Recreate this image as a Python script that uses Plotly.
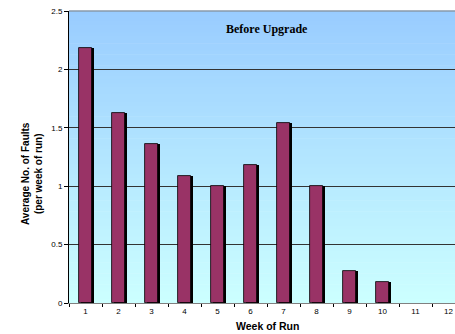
import plotly.graph_objects as go

# Average faults per week of run, before the upgrade
weeks = ["1", "2", "3", "4", "5", "6", "7", "8", "9", "10", "11", "12"]
avg_faults = [2.18, 1.63, 1.36, 1.09, 1.0, 1.18, 1.54, 1.0, 0.27, 0.18, 0, 0]

y_ticks = [0, 0.5, 1, 1.5, 2, 2.5]
y_labels = ["0", "0.5", "1", "1.5", "2", "2.5"]

W, H = 455, 334
ML, MT, MB = 69, 11, 31
plot_w = W - ML
plot_h = H - MT - MB

bar_w = 0.42
px_per_cat = 33.0
shadow_dx = 2.0 / px_per_cat

# no outline on empty weeks
outline_w = [0.8 if v > 0 else 0 for v in avg_faults]

fig = go.Figure()

# drop shadow behind each bar
fig.add_trace(go.Bar(
    x=weeks, y=avg_faults, width=bar_w, offset=-bar_w / 2 + shadow_dx,
    marker=dict(color="#000000", line=dict(width=0)),
    hoverinfo="skip", showlegend=False,
))
fig.add_trace(go.Bar(
    x=weeks, y=avg_faults, width=bar_w, offset=-bar_w / 2,
    marker=dict(color="#993366", line=dict(color="#000000", width=outline_w)),
    showlegend=False,
))

# vertical gradient fill for the plot area
n = 80
c0 = (153, 204, 255)
c1 = (204, 255, 255)
shapes = []
for i in range(n):
    t = i / (n - 1)
    col = tuple(round(c0[k] + (c1[k] - c0[k]) * t) for k in range(3))
    shapes.append(dict(
        type="rect", xref="x domain", yref="y domain",
        x0=0, x1=1, y0=1 - (i + 1) / n, y1=1 - i / n + 0.002,
        fillcolor="rgb(%d,%d,%d)" % col, line=dict(width=0), layer="below",
    ))
# top border of the plot area
shapes.append(dict(type="line", xref="x domain", yref="y domain",
                   x0=0, x1=1, y0=1, y1=1, line=dict(color="#808080", width=1)))

fig.update_layout(
    width=W, height=H,
    margin=dict(l=ML, r=0, t=MT, b=MB),
    paper_bgcolor="white", plot_bgcolor="rgba(0,0,0,0)",
    barmode="overlay", bargap=0,
    shapes=shapes,
    font=dict(family="Arial", size=8, color="#000000"),
    xaxis=dict(
        type="category", range=[-0.5, -0.5 + plot_w / px_per_cat],
        tickson="boundaries", ticks="outside", ticklen=3, tickcolor="#000",
        showline=True, linecolor="#808080", linewidth=1,
        showgrid=False, tickfont=dict(size=8, family="Arial"),
        fixedrange=True,
    ),
    yaxis=dict(
        range=[0, 2.5], tickvals=y_ticks, ticktext=y_labels,
        ticks="outside", ticklen=4, tickcolor="#000",
        showline=True, linecolor="#000000", linewidth=1,
        showgrid=True, gridcolor="#333333", gridwidth=1,
        zeroline=False, tickfont=dict(size=8, family="Arial"),
        fixedrange=True,
    ),
    annotations=[
        dict(text="<b>Before Upgrade</b>", xref="paper", yref="paper",
             x=(267 - ML) / plot_w, y=(H - MB - 29) / plot_h,
             showarrow=False, xanchor="center", yanchor="middle",
             font=dict(family="Times New Roman, Liberation Serif", size=12, color="#000")),
        dict(text="<b>Week of Run</b>", xref="paper", yref="paper",
             x=(267 - ML) / plot_w, y=(H - MB - 326) / plot_h,
             showarrow=False, xanchor="center", yanchor="middle",
             font=dict(family="Arial", size=10.5, color="#000")),
        dict(text="<b>Average No. of Faults<br>(per week of run)</b>",
             xref="paper", yref="paper",
             x=(32 - ML) / plot_w, y=(H - MB - 174) / plot_h,
             textangle=-90, showarrow=False, xanchor="center", yanchor="middle",
             font=dict(family="Arial", size=10, color="#000")),
    ],
)

fig.write_html("out.html")
